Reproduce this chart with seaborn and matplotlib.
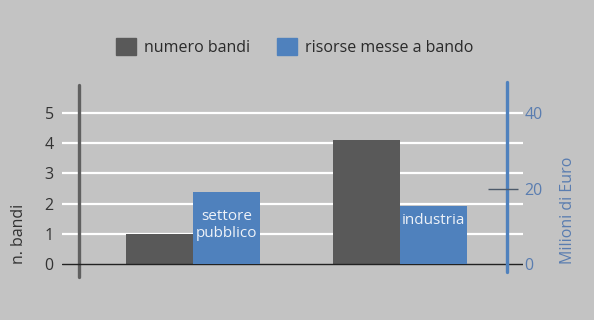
import pandas as pd
import matplotlib
matplotlib.use('Agg')
import matplotlib.pyplot as plt
import seaborn as sns

settori = ['settore\npubblico', 'industria']
numero_bandi = [1.0, 4.1]
risorse = [19.0, 15.4]  # milioni di euro
serie = ['numero bandi', 'risorse messe a bando']
colori = ['#595959', '#4f81bd']
sx_ticks = [0, 1, 2, 3, 4, 5]
dx_ticks = [0, 20, 40]

df = pd.DataFrame({
    'settore': settori * 2,
    'serie': [serie[0]] * 2 + [serie[1]] * 2,
    'valore': numero_bandi + risorse,
})

sns.set_style('white')
plt.rcParams['font.family'] = ['Open Sans', 'DejaVu Sans']
bg = '#c3c3c3'
fs = 11.5

fig = plt.figure(figsize=(5.94, 3.2), dpi=100, facecolor=bg)
ax = fig.add_axes([62 / 594, 1 - 280 / 320, 461 / 594, 200 / 320])
ax.set_facecolor('none')
ax2 = ax.twinx()
ax2.set_facecolor('none')

# same dodged barplot on both axes, each axis keeps only its own series
for a, keep in ((ax, serie[0]), (ax2, serie[1])):
    sns.barplot(data=df, x='settore', y='valore', hue='serie', hue_order=serie,
                palette=colori, width=0.65, saturation=1, order=settori,
                linewidth=0, ax=a)
    for cont, lab in zip(a.containers, serie):
        if lab != keep:
            for p in cont:
                p.set_visible(False)
    if a.get_legend() is not None:
        a.get_legend().remove()
    for s in a.spines.values():
        s.set_visible(False)

ax.set_xlim(-0.633, 1.594)
ax.set_ylim(-0.53, 6.093)
ax2.set_ylim(-0.53 * 8, 6.093 * 8)

# gridlines + baseline
for t in sx_ticks[1:]:
    ax.axhline(t, color='white', lw=1.6, zorder=0)
ax2.axhline(0, color='#222222', lw=1.0, zorder=0)

ax.set_yticks(sx_ticks)
ax.tick_params(axis='y', length=0, pad=6, labelsize=fs, labelcolor='#333333')
ax2.set_yticks(dx_ticks)
ax2.tick_params(axis='y', length=0, pad=1, labelsize=fs, labelcolor='#5a7db0')
ax.set_xticks([])
ax.set_xlabel('')
ax.set_ylabel('')
ax2.set_xlabel('')
ax2.set_ylabel('')

# axis lines
ax.axvline(-0.551, ymin=0.015, ymax=0.975, color='#606060', lw=2.4, zorder=5)
ax2.axvline(1.517, ymin=0.04, ymax=0.99, color='#4f81bd', lw=2.4, zorder=5)
ax2.hlines(20, 1.425, 1.57, color='#4d5a6a', lw=1.0, zorder=6)

# category labels inside blue bars
ax2.text(0.1625, 10.3, settori[0], ha='center', va='center', color='#eef2f8',
         fontsize=11, linespacing=1.25)
ax2.text(1.1625, 11.4, settori[1], ha='center', va='center', color='#eef2f8',
         fontsize=11)

fig.text(19 / 594, 1 - 234 / 320, 'n. bandi', rotation=90, ha='center', va='center',
         fontsize=fs, color='#333333')
fig.text(568 / 594, 1 - 210 / 320, 'Milioni di Euro', rotation=90, ha='center',
         va='center', fontsize=fs, color='#5a7db0')

handles = [plt.Rectangle((0, 0), 1, 1, color=c) for c in colori]
fig.legend(handles, serie, loc='center', bbox_to_anchor=(295 / 594, 1 - 47 / 320),
           ncol=2, frameon=False, fontsize=fs, handlelength=1.25, handleheight=1.25,
           handletextpad=0.5, columnspacing=1.7, labelcolor='#2a2a2a')

fig.savefig('out.png', dpi=100, facecolor=bg)
